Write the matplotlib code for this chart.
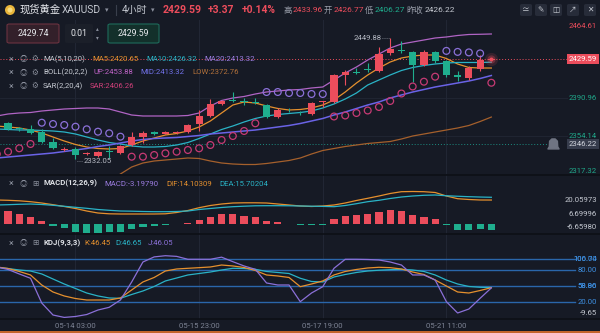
import numpy as np
import matplotlib
matplotlib.use('Agg')
import matplotlib.pyplot as plt
from matplotlib import transforms
from matplotlib.patches import FancyBboxPatch, Ellipse, Rectangle
from matplotlib.lines import Line2D
from matplotlib.path import Path

plt.rcParams['font.family'] = ['Roboto', 'Noto Sans CJK SC', 'DejaVu Sans']

# ---- XAUUSD 4h candles (oldest partially visible one first) ----
opens = [2363.04, 2366.95, 2361.58, 2361.09, 2358.16, 2348.39, 2341.06, 2341.55, 2336.67, 2334.71,
         2339.60, 2337.65, 2345.46, 2353.27, 2357.67, 2356.69, 2357.18, 2358.16, 2365.97, 2373.79,
         2385.51, 2388.93, 2387.95, 2386.98, 2384.53, 2372.81, 2380.13, 2377.20, 2375.74, 2386.98,
         2387.46, 2413.83, 2417.05, 2419.88, 2418.22, 2434.83, 2437.95, 2436.39, 2423.69, 2436.39,
         2427.12, 2413.54, 2410.90, 2420.17, 2428.96]
highs = [2368.90, 2367.93, 2363.04, 2365.00, 2361.09, 2352.30, 2343.51, 2343.51, 2338.62, 2339.60,
         2344.49, 2345.46, 2358.16, 2359.14, 2359.14, 2359.14, 2359.14, 2365.97, 2379.65, 2390.39,
         2389.42, 2397.22, 2391.37, 2391.37, 2385.51, 2381.60, 2381.60, 2378.67, 2387.46, 2388.44,
         2414.80, 2418.71, 2420.66, 2425.55, 2440.69, 2449.88, 2447.50, 2437.37, 2438.34, 2437.37,
         2428.58, 2417.73, 2422.62, 2432.87, 2430.20]
lows = [2362.07, 2360.11, 2359.14, 2356.20, 2347.42, 2341.55, 2339.60, 2332.05, 2335.69, 2333.74,
        2332.77, 2336.67, 2344.49, 2347.42, 2355.23, 2356.20, 2356.20, 2357.18, 2359.14, 2372.81,
        2384.53, 2387.46, 2384.53, 2385.51, 2371.83, 2371.83, 2377.69, 2374.76, 2374.76, 2382.58,
        2386.49, 2404.06, 2414.80, 2416.76, 2416.76, 2433.36, 2435.37, 2406.99, 2422.72, 2425.65,
        2411.88, 2407.97, 2408.95, 2417.73, 2428.70]
closes = [2366.95, 2361.09, 2360.90, 2357.20, 2348.39, 2342.53, 2342.04, 2335.69, 2337.65, 2338.62,
          2338.62, 2344.49, 2353.27, 2357.18, 2356.69, 2357.67, 2358.16, 2365.00, 2373.79, 2385.51,
          2388.44, 2387.95, 2386.98, 2386.00, 2372.81, 2379.65, 2379.16, 2376.23, 2386.49, 2387.95,
          2413.83, 2416.76, 2416.07, 2418.90, 2434.34, 2439.22, 2436.97, 2423.69, 2436.39, 2427.60,
          2413.83, 2411.39, 2421.15, 2428.96, 2429.59]

ma5 = [2364.02, 2363.04, 2362.07, 2360.11, 2357.18, 2353.27, 2349.37, 2345.95, 2343.51, 2342.04,
       2341.56, 2342.04, 2345.46, 2349.37, 2352.30, 2355.23, 2356.69, 2359.14, 2363.04, 2368.90,
       2376.71, 2384.53, 2387.46, 2386.49, 2383.56, 2381.12, 2379.65, 2380.14, 2381.60, 2384.53,
       2389.41, 2397.22, 2406.01, 2413.83, 2420.66, 2426.52, 2430.43, 2432.38, 2433.36, 2433.36,
       2429.94, 2424.57, 2421.15, 2420.66, 2420.65]
ma10 = [2361.09, 2360.60, 2360.11, 2360.11, 2359.63, 2359.14, 2358.16, 2356.20, 2353.27, 2350.35,
        2347.90, 2346.44, 2344.49, 2343.51, 2343.51, 2344.00, 2345.46, 2347.90, 2351.81, 2356.20,
        2360.60, 2364.02, 2367.93, 2371.35, 2373.79, 2375.25, 2376.23, 2377.20, 2378.67, 2381.60,
        2385.51, 2390.39, 2396.25, 2404.06, 2408.95, 2413.83, 2418.22, 2421.15, 2423.11, 2424.57,
        2425.55, 2426.04, 2426.04, 2426.04, 2426.32]
boll_mid = [2332.77, 2333.74, 2334.71, 2335.69, 2336.67, 2337.65, 2339.11, 2340.58, 2342.04, 2344.00,
            2345.46, 2347.42, 2349.37, 2350.84, 2351.81, 2352.30, 2352.79, 2353.76, 2354.74, 2356.20,
            2357.18, 2358.16, 2359.14, 2360.11, 2361.58, 2363.04, 2364.51, 2366.46, 2368.90, 2371.35,
            2374.76, 2377.69, 2381.11, 2384.53, 2387.46, 2391.37, 2394.30, 2397.22, 2399.66, 2402.11,
            2404.06, 2406.01, 2407.97, 2410.41, 2413.32]
boll_up = [2373.79, 2375.74, 2376.71, 2377.20, 2378.67, 2379.65, 2380.62, 2381.11, 2381.60, 2381.60,
           2380.62, 2377.69, 2374.76, 2373.79, 2373.79, 2373.79, 2373.79, 2374.27, 2376.71, 2383.55,
           2388.93, 2391.37, 2392.84, 2395.28, 2397.23, 2398.21, 2399.18, 2399.67, 2401.14, 2402.11,
           2408.95, 2415.78, 2421.64, 2428.48, 2434.34, 2440.20, 2444.11, 2446.06, 2448.01, 2449.97,
           2450.95, 2452.41, 2453.39, 2453.60, 2453.88]
boll_low = [2291.75, 2292.73, 2292.73, 2293.70, 2294.68, 2295.66, 2297.61, 2300.05, 2302.49, 2306.40,
            2310.31, 2317.14, 2323.98, 2327.88, 2329.84, 2330.81, 2331.79, 2332.77, 2332.28, 2329.84,
            2327.88, 2326.91, 2326.42, 2326.42, 2327.40, 2328.86, 2330.33, 2332.77, 2336.67, 2340.09,
            2342.04, 2344.00, 2345.46, 2346.93, 2347.90, 2348.88, 2351.32, 2354.25, 2356.20, 2358.16,
            2360.11, 2362.07, 2364.51, 2368.42, 2372.76]
sar = [2336.67, 2338.92, 2342.24, 2346.44, 2367.24, 2365.97, 2365.00, 2363.33, 2360.79, 2358.45,
       2356.89, 2353.57, 2334.03, 2334.03, 2335.69, 2337.35, 2338.92, 2340.58, 2342.24, 2345.46,
       2350.35, 2354.25, 2359.14, 2366.66, 2397.22, 2397.22, 2396.25, 2396.25, 2395.27, 2395.27,
       2373.30, 2374.27, 2376.71, 2379.16, 2382.58, 2388.44, 2395.76, 2402.60, 2407.29, 2412.17,
       2437.36, 2436.39, 2435.90, 2434.92, 2406.26]

dif = [14.13, 13.95, 13.66, 13.14, 12.38, 11.40, 10.35, 9.19, 7.73, 6.57,
       6.10, 5.99, 5.99, 5.99, 5.99, 6.10, 6.86, 8.02, 9.65, 10.93,
       11.80, 12.38, 12.50, 12.50, 12.38, 11.80, 11.22, 10.64, 10.35, 10.64,
       11.22, 12.38, 13.84, 15.12, 16.45, 17.91, 18.95, 19.07, 18.95, 18.49,
       16.45, 14.88, 14.42, 14.13, 14.10309]
dea = [11.22, 11.40, 11.63, 11.80, 11.51, 11.05, 10.47, 9.88, 9.30, 8.60,
       8.14, 7.73, 7.62, 7.44, 7.33, 7.33, 7.44, 7.73, 8.60, 9.19,
       9.77, 10.23, 10.52, 10.76, 10.81, 10.81, 10.76, 10.64, 10.52, 10.41,
       10.23, 10.93, 11.98, 13.14, 13.95, 15.00, 15.87, 16.45, 16.86, 17.03,
       16.60, 16.30, 16.05, 15.85, 15.70204]
macd_hist = [8.31, 7.73, 5.81, 4.42, 1.92, -0.99, -2.33, -4.65, -5.23, -5.23,
             -4.65, -4.30, -2.91, -1.74, -0.81, -0.35, 0.20, 0.58, 2.50, 4.42,
             5.81, 5.81, 5.00, 4.42, 1.92, 1.16, 0.30, -0.30, -0.30, -0.30,
             2.91, 5.00, 5.41, 5.81, 7.33, 8.31, 7.73, 5.41, 4.42, 2.91,
             -0.30, -3.31, -3.31, -2.91, -3.19790]

kdj_k = [85.5, 82.6, 77.0, 70.4, 51.5, 38.3, 30.8, 26.0, 23.2, 23.2,
         23.2, 27.0, 42.1, 57.2, 65.7, 77.9, 81.7, 83.0, 84.2, 85.5,
         89.2, 87.4, 84.5, 78.9, 70.4, 68.5, 65.7, 48.3, 53.4, 59.1,
         70.4, 77.0, 80.8, 83.6, 84.9, 84.2, 81.7, 76.0, 71.3, 60.9,
         49.6, 38.3, 36.4, 41.1, 46.45]
kdj_d = [84.9, 82.6, 79.8, 77.9, 72.3, 62.8, 53.4, 44.9, 36.4, 30.8,
         27.0, 26.4, 33.6, 40.2, 48.7, 59.1, 64.7, 70.4, 73.2, 76.0,
         79.8, 83.0, 82.6, 81.1, 77.0, 75.1, 73.2, 64.2, 58.1, 57.2,
         66.6, 71.3, 75.1, 77.9, 79.4, 80.4, 81.1, 79.8, 77.0, 70.4,
         60.9, 53.4, 48.7, 47.2, 46.65]
kdj_j = [85.5, 80.8, 72.3, 64.2, 17.5, -5.1, -9.65, -7.9, -4.2, 4.3,
         9.4, 23.2, 57.2, 94.9, 104.5, 106.74, 105.5, 100.0, 100.0, 100.0,
         104.0, 95.5, 87.4, 81.1, 55.3, 51.5, 51.5, 20.0, 36.4, 48.3,
         83.0, 100.0, 100.0, 99.6, 98.7, 94.9, 89.2, 70.4, 70.4, 60.9,
         20.0, -1.3, 6.2, 26.4, 46.05]

time_labels = ['05-14 03:00', '05-15 23:00', '05-17 19:00', '05-21 11:00']
time_idx = [7, 18, 29, 40]
price_ticks = [2464.61, 2390.96, 2354.14, 2317.32]
alert_price = 2346.22
bid_price, lot_size, ask_price = 2429.74, 0.01, 2429.59
day_change, day_change_pct = 3.37, 0.14
day_high, day_open, day_low, prev_close = 2433.96, 2426.77, 2406.27, 2426.22
macd_ticks = [14.1, 6.0, -1.75]
macd_tick_labels = ['20.05973', '6.69996', '-6.65980']
kdj_levels = [100, 80, 50, 20]

W, H = 600, 333
BG = '#161a25'
UP = '#ec4d5c'
DN = '#1fae8e'
GRID = '#212634'
ORANGE = '#e5902e'
TEAL = '#2ab3c6'
VIOLET = '#8b70d8'
TXT = '#c4c8d0'

fig = plt.figure(figsize=(W / 100, H / 100), dpi=100, facecolor=BG)


def pane(top, bottom):
    a = fig.add_axes([0, 1 - bottom / H, 568 / W, (bottom - top) / H], facecolor=BG)
    a.set_xlim(0.285, 50.82)
    a.set_xticks([])
    a.set_yticks([])
    for s in a.spines.values():
        s.set_visible(False)
    for t in time_idx:
        a.axvline(t, color=GRID, lw=0.8, zorder=0)
    return a


def ftext(x, y, s, color=TXT, size=5.6, **kw):
    kw.setdefault('ha', 'left')
    fig.text(x / W, 1 - y / H, s, color=color, fontsize=size, va='center', **kw)


def fbox(x0, y0, x1, y1, fc, ec='none'):
    fig.patches.append(FancyBboxPatch((x0 / W, 1 - y1 / H), (x1 - x0) / W, (y1 - y0) / H,
                                      boxstyle='round,pad=0,rounding_size=0.004',
                                      transform=fig.transFigure, fc=fc, ec=ec, lw=0.8))


def rlabel(a, y, s, color, va='center', bg=None):
    tr = transforms.blended_transform_factory(fig.transFigure, a.transData)
    bbox = dict(boxstyle='square,pad=0.25', fc=bg, ec='none') if bg else None
    a.text(597 / W, y, s, transform=tr, ha='right', va=va, color=color, fontsize=5.6, bbox=bbox)


idx = np.arange(len(closes))
o, h, l, c = map(np.array, (opens, highs, lows, closes))
col = np.where(c >= o, UP, DN)

# ---- main price pane ----
ax = pane(20, 174)
ax.set_ylim(2317.14, 2467.54)
for p in price_ticks[1:3]:
    ax.axhline(p, color=GRID, lw=0.6, zorder=0)
ax.vlines(idx, l, h, colors=col, lw=0.8, zorder=3)
ax.bar(idx, np.maximum(np.abs(c - o), 0.9), bottom=np.minimum(o, c), width=0.64,
       color=col, lw=0, zorder=4)
ax.plot(idx, boll_up, color='#b064c4', lw=0.9, zorder=2)
ax.plot(idx, boll_low, color='#a5602c', lw=0.9, zorder=2)
ax.plot(idx, ma5, color=ORANGE, lw=0.9, zorder=2)
ax.plot(idx, ma10, color=TEAL, lw=0.9, zorder=2)
ax.plot(idx, boll_mid, color='#6a63e6', lw=1.1, zorder=2)

sar_a = np.array(sar)
above = sar_a > c
ax.scatter(idx[above], sar_a[above], s=24, facecolors='none', edgecolors=VIOLET, linewidths=0.9, zorder=5)
ax.scatter(idx[~above], sar_a[~above], s=24, facecolors='none', edgecolors='#c63a74', linewidths=0.9, zorder=5)

ax.axhline(closes[-1], color=UP, lw=0.7, ls=(0, (1, 2)), zorder=1)
ax.axhline(alert_price, xmax=548 / 568, color='#1c8c80', lw=0.7, ls=(0, (1, 2)), zorder=1)
bell = Path([(-0.5, -0.4), (0.5, -0.4), (0.38, -0.2), (0.35, 0.3), (0.15, 0.5), (-0.15, 0.5),
             (-0.35, 0.3), (-0.38, -0.2), (-0.5, -0.4)], closed=True)
ax.plot([49.48], [alert_price], marker=bell, ms=8, color='#6f7482', ls='none', zorder=6)
for s_, a_ in ((90, 0.15), (35, 0.3), (8, 1.0)):
    ax.scatter([idx[-1]], [closes[-1]], s=s_, color=UP, alpha=a_, lw=0, zorder=6)

hi = int(np.argmax(h))
lo = int(np.argmin(l))
ax.text(hi - 0.75, h[hi], f'{h[hi]:.2f}', color='#b5b9c3', fontsize=5.6, ha='right', va='center')
ax.plot([hi - 0.72, hi - 0.1], [h[hi], h[hi]], color='#8a8f9a', lw=0.6, ls=(0, (1, 1.5)))
ax.text(lo + 0.75, l[lo] - 2.5, f'{l[lo]:.2f}', color='#b5b9c3', fontsize=5.6, ha='left', va='center')
ax.plot([lo + 0.1, lo + 0.7], [l[lo] - 2.5, l[lo] - 2.5], color='#8a8f9a', lw=0.6, ls=(0, (1, 1.5)))

rlabel(ax, price_ticks[0], f'{price_ticks[0]:.2f}', UP, va='top')
rlabel(ax, price_ticks[1], f'{price_ticks[1]:.2f}', '#20a88a')
rlabel(ax, price_ticks[2], f'{price_ticks[2]:.2f}', '#20a88a')
rlabel(ax, price_ticks[3], f'{price_ticks[3]:.2f}', '#20a88a', va='bottom')
rlabel(ax, alert_price, f'{alert_price:.2f}', '#d0d4dc', bg='#363c4c')
rlabel(ax, closes[-1], f'{closes[-1]:.2f}', 'white', bg=UP)

# ---- MACD pane ----
axm = pane(175, 233.5)
axm.set_ylim(-5.35, 28.66)
hist = np.array(macd_hist)
axm.bar(idx, hist, width=0.64, color=np.where(hist >= 0, UP, DN), lw=0)
axm.plot(idx, dif, color=ORANGE, lw=0.9)
axm.plot(idx, dea, color=TEAL, lw=0.9)
for v, s in zip(macd_ticks, macd_tick_labels):
    rlabel(axm, v, s, TXT)

# ---- KDJ pane ----
axk = pane(234, 318.5)
axk.set_ylim(-11.7, 147.7)
for lv in kdj_levels:
    axk.axhline(lv, xmax=575 / 568, color='#2a66aa', lw=1.0, clip_on=False, zorder=1)
axk.plot(idx, kdj_d, color=TEAL, lw=0.9, zorder=2)
axk.plot(idx, kdj_k, color=ORANGE, lw=0.9, zorder=3)
axk.plot(idx, kdj_j, color=VIOLET, lw=0.9, zorder=3)
BLUE_T = '#3d8ee0'
rlabel(axk, 100, '100.00', BLUE_T)
rlabel(axk, 100, f'{max(kdj_j):.2f}', BLUE_T)
rlabel(axk, 80, '80.00', BLUE_T)
rlabel(axk, 50, '50.00', BLUE_T)
rlabel(axk, 50, '58.86', BLUE_T)
rlabel(axk, 20, '20.00', BLUE_T)
rlabel(axk, -0.8, f'{min(kdj_j):.2f}', TXT)

trx = transforms.blended_transform_factory(axk.transData, fig.transFigure)
for t, s in zip(time_idx, time_labels):
    axk.text(t, 1 - 326 / H, s, transform=trx, ha='center', va='center', color='#7d8394',
             fontsize=5.6, clip_on=False)

# separators and bottom strip
for y in (174.5, 233.8, 319):
    fig.add_artist(Line2D([0, 1], [1 - y / H] * 2, transform=fig.transFigure, color='#0d1016', lw=1.2))
fig.patches.append(Rectangle((0, 0), 1, 2 / H, transform=fig.transFigure, fc='#c4632b', ec='none'))

# ---- header ----
fig.patches.append(Ellipse((10 / W, 1 - 10 / H), 10 / W, 10 / H, transform=fig.transFigure, fc='#e9b53a'))
fig.patches.append(Ellipse((10 / W, 1 - 10 / H), 5 / W, 5 / H, transform=fig.transFigure, fc='#f8dc80'))
ftext(20, 10, '现货黄金', '#e8eaef', 7.4)
ftext(62, 10, 'XAUUSD', TXT, 7.4)
ftext(105, 10.5, '▾', '#8a8f9c', 5)
fig.add_artist(Line2D([116 / W] * 2, [1 - 5 / H, 1 - 15 / H], transform=fig.transFigure, color='#3a3f4c', lw=0.8))
ftext(122, 10, '4小时', TXT, 7.2)
ftext(151, 10.5, '▾', '#8a8f9c', 5)
ftext(163, 10, f'{closes[-1]:.2f}', UP, 7.6, weight='bold')
ftext(208, 10, f'+{day_change:.2f}', UP, 7.4, weight='bold')
ftext(242, 10, f'+{day_change_pct:.2f}%', UP, 7.4, weight='bold')
ftext(283, 10, '高', '#9a9fab', 6)
ftext(293, 10, f'{day_high:.2f}', UP, 6)
ftext(324, 10, '开', '#9a9fab', 6)
ftext(334, 10, f'{day_open:.2f}', UP, 6)
ftext(365, 10, '低', '#9a9fab', 6)
ftext(375, 10, f'{day_low:.2f}', DN, 6)
ftext(406, 10, '昨收', '#9a9fab', 6)
ftext(425, 10, f'{prev_close:.2f}', TXT, 6)
for x0, g in zip((520, 535, 550, 567, 584), ('≃', '✎', '◫', '↗', '✕')):
    fbox(x0, 4, x0 + 12, 16, '#272c39')
    ftext(x0 + 6, 10, g, '#c4c8d0', 5.5, ha='center')

# order boxes
fbox(7, 24, 59, 43, '#33202a', '#6b3340')
ftext(33, 33.5, f'{bid_price:.2f}', '#e6e8ec', 6.3, ha='center')
fbox(65, 24, 93, 43, '#1b1f29')
ftext(79, 33.5, f'{lot_size:.2f}', '#e6e8ec', 6.3, ha='center')
ftext(97, 29, '▴', '#8a8f9c', 4, ha='center')
ftext(97, 38, '▾', '#8a8f9c', 4, ha='center')
fbox(108, 24, 159, 43, '#13302b', '#1e6b5b')
ftext(133.5, 33.5, f'{ask_price:.2f}', '#e6e8ec', 6.3, ha='center')

# indicator legends
ICON = '#8a8f9c'
for y in (59, 72.5, 86):
    ftext(8.5, y, '×', ICON, 6.5)
    ftext(19.5, y, '◎', ICON, 5.5)
    ftext(31, y, '⚙', ICON, 5.5)
ftext(43, 59, 'MA(5,10,20)', TXT)
ftext(92, 59, f'MA5:{ma5[-1]:.2f}', ORANGE)
ftext(146, 59, f'MA10:{ma10[-1]:.2f}', TEAL)
ftext(204, 59, f'MA20:{boll_mid[-1]:.2f}', '#9b7ce0')
ftext(43, 72.5, 'BOLL(20,2,2)', TXT)
ftext(94, 72.5, f'UP:{boll_up[-1]:.2f}', '#c064c8')
ftext(140, 72.5, f'MID:{boll_mid[-1]:.2f}', '#7272ea')
ftext(192, 72.5, f'LOW:{boll_low[-1]:.2f}', '#b0703a')
ftext(43, 86, 'SAR(2,20,4)', TXT)
ftext(90, 86, f'SAR:{sar[-1]:.2f}', '#d0407a')

for y in (183.5, 243):
    ftext(8.5, y, '×', ICON, 6.5)
    ftext(19.5, y, '◎', ICON, 5.5)
    ftext(32, y, '⊞', ICON, 5.5)
ftext(43, 183.5, 'MACD(12,26,9)', '#e0e3e8', weight='bold')
ftext(104, 183.5, f'MACD:{macd_hist[-1]:.5f}', '#9b7ce0')
ftext(166, 183.5, f'DIF:{dif[-1]:.5f}', ORANGE)
ftext(219.5, 183.5, f'DEA:{dea[-1]:.5f}', TEAL)
ftext(43, 243, 'KDJ(9,3,3)', '#e0e3e8', weight='bold')
ftext(84.5, 243, f'K:{kdj_k[-1]:.2f}', ORANGE)
ftext(115, 243, f'D:{kdj_d[-1]:.2f}', TEAL)
ftext(148, 243, f'J:{kdj_j[-1]:.2f}', VIOLET)

fig.savefig('out.png', dpi=100, facecolor=BG)
